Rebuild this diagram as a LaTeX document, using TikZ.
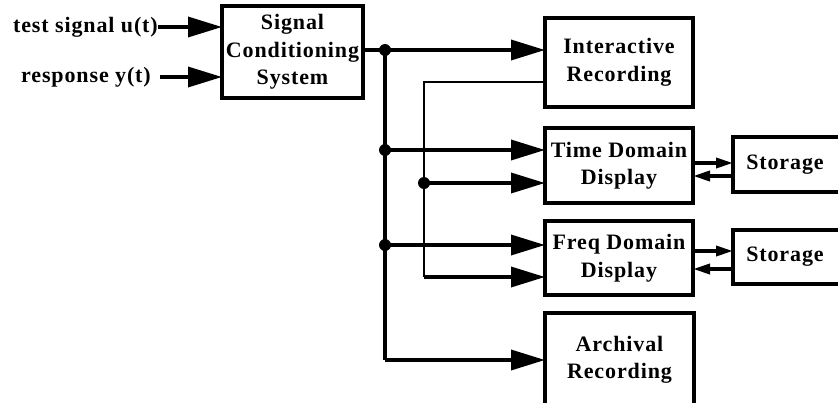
\documentclass[tikz,border=0pt]{standalone}
\usepackage{fontspec}
\setmainfont{Liberation Serif}[LetterSpace=4]
\usetikzlibrary{arrows.meta}
\begin{document}
\begin{tikzpicture}[x=1pt,y=-1pt,
  box/.style={draw,line width=3.5pt,inner sep=0pt,outer sep=0pt,align=center,
    font=\bfseries\fontsize{22}{27.5}\selectfont},
  lbl/.style={inner sep=0pt,font=\bfseries\fontsize{22}{24}\selectfont},
  arr/.style={line width=3.5pt,-{Triangle[length=34pt,width=20pt]}},
  sarr/.style={line width=3.5pt,-{Triangle[length=17pt,width=10pt]}},
  thin/.style={line width=2.6pt},
  dot/.style={circle,fill,inner sep=0pt,minimum size=12pt}]
\clip (0,0) rectangle (838,402);
% boxes
\node[box,minimum width=141,minimum height=92] (scs) at (292.5,52) {Signal\\Conditioning\\System};
\node[box,minimum width=148,minimum height=89] (int) at (619,62.5) {Interactive\\Recording};
\node[box,minimum width=148,minimum height=75] (tdd) at (619,165.5) {Time Domain\\Display};
\node[box,minimum width=148,minimum height=74] (fdd) at (619,258) {Freq Domain\\Display};
\node[box,minimum width=149,minimum height=107,
  label={[anchor=center,yshift=6.5pt,align=center,font=\bfseries\fontsize{22}{27.5}\selectfont]center:Archival\\Recording}] (arch) at (619.5,366.5) {};
\node[box,minimum width=117,minimum height=55,
  label={[anchor=center,xshift=-6.5pt,font=\bfseries\fontsize{22}{24}\selectfont]center:Storage}] (st1) at (791.5,164.5) {};
\node[box,minimum width=117,minimum height=54,
  label={[anchor=center,xshift=-6.5pt,font=\bfseries\fontsize{22}{24}\selectfont]center:Storage}] (st2) at (791.5,257) {};
% input labels
\node[lbl,anchor=east] (tin) at (158,27) {test signal u(t)};
\node[lbl,anchor=east] (rin) at (151,77) {response y(t)};
\coordinate (rstart) at (160,77);
% junctions
\coordinate (j1) at (385,50);
\coordinate (j2) at (385,150);
\coordinate (j3) at (385,245);
\coordinate (j4) at (385,360);
\coordinate (k1) at (424,82);
\coordinate (k2) at (424,183);
\coordinate (k3) at (424,277);
% inputs
\draw[arr] (tin.east) -- (tin.east -| scs.west);
\draw[arr] (rstart) -- (rstart -| scs.west);
% main bus
\draw[arr] (j1 -| scs.east) -- (j1 -| int.west);
\draw[line width=3.5pt] (j1) -- (j4);
\draw[arr] (j4) -- (j4 -| arch.west);
\draw[arr] (j2) -- (j2 -| tdd.west);
\draw[arr] (j3) -- (j3 -| fdd.west);
% interactive bus
\draw[thin] (k1 -| int.west) -- (k1) -- (k3);
\draw[arr] (k3) -- (k3 -| fdd.west);
\draw[arr] (k2) -- (k2 -| tdd.west);
% dots
\node[dot] (d1) at (j1) {};
\node[dot] (d2) at (j2) {};
\node[dot] (d3) at (j3) {};
\node[dot] (d4) at (k2) {};
% storage links
\coordinate (s1a) at (0,163);
\coordinate (s1b) at (0,176);
\coordinate (s2a) at (0,251);
\coordinate (s2b) at (0,269);
\draw[sarr] (tdd.east |- s1a) -- (st1.west |- s1a);
\draw[sarr] (st1.west |- s1b) -- (tdd.east |- s1b);
\draw[sarr] (fdd.east |- s2a) -- (st2.west |- s2a);
\draw[sarr] (st2.west |- s2b) -- (fdd.east |- s2b);
\end{tikzpicture}
\end{document}
